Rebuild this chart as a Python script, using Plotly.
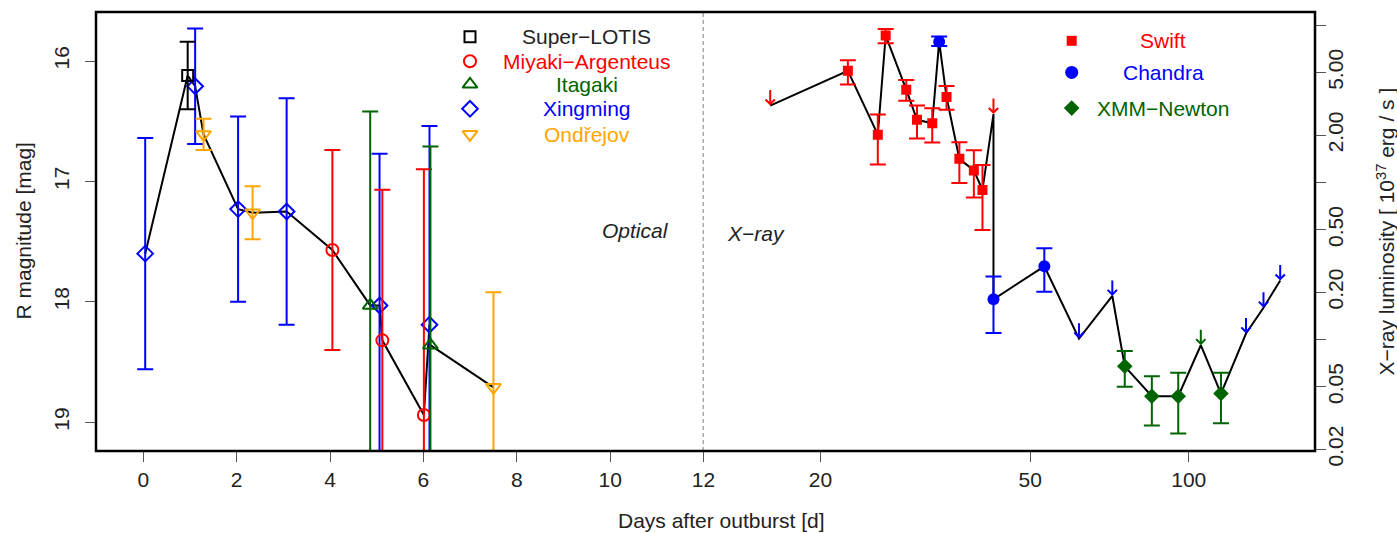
import numpy as np
import plotly.graph_objects as go

# ---------------- Optical data (days, R mag, error) ----------------
lotis_t = [0.95]
lotis_m = [16.12]
lotis_e = [0.28]

miyaki_t = [4.05, 5.12, 6.01]
miyaki_m = [17.57, 18.32, 18.94]
miyaki_e = [0.83, 1.25, 2.04]

itagaki_t = [4.86, 6.15]
itagaki_m = [18.03, 18.36]
itagaki_e = [1.61, 1.65]

xing_t = [0.04, 1.11, 2.03, 3.07, 5.06, 6.13]
xing_m = [17.60, 16.21, 17.23, 17.25, 18.03, 18.19]
xing_e = [0.96, 0.48, 0.77, 0.94, 1.26, 1.65]

ondr_t = [1.29, 2.34, 7.50]
ondr_m = [16.61, 17.26, 18.71]
ondr_e = [0.13, 0.22, 0.79]

# ---------------- X-ray data (days, L [1e37 erg/s], low, high) ----------------
swift_t = [22.55, 25.7, 26.6, 29.1, 30.5, 32.6, 34.7, 36.7, 39.1, 40.6]
swift_L = [5.13, 2.01, 8.60, 3.89, 2.50, 2.38, 3.49, 1.41, 1.19, 0.895]
swift_lo = [4.20, 1.30, 7.68, 3.30, 1.90, 1.79, 2.90, 0.99, 0.80, 0.497]
swift_hi = [5.98, 2.70, 9.46, 4.48, 3.08, 2.96, 4.10, 1.80, 1.60, 1.29]
swift_ul_t = [16.06, 42.6]
swift_ul_L = [3.08, 2.72]

chandra_t = [33.6, 42.6, 53.2]
chandra_L = [7.86, 0.180, 0.292]
chandra_lo = [7.37, 0.110, 0.201]
chandra_hi = [8.47, 0.251, 0.380]
chandra_ul_t = [61.9, 71.6, 128.4, 138.6, 149.1]
chandra_ul_L = [0.101, 0.189, 0.109, 0.159, 0.237]

xmm_t = [75.6, 85.1, 95.5, 115.1]
xmm_L = [0.0674, 0.0435, 0.0435, 0.0452]
xmm_lo = [0.0500, 0.0283, 0.0252, 0.0292]
xmm_hi = [0.0843, 0.0583, 0.0614, 0.0614]
xmm_ul_t = [105.4]
xmm_ul_L = [0.0918]

opt_ticks = [0, 2, 4, 6, 8, 10, 12]
xr_ticks = [20, 50, 100]
mag_ticks = [16, 17, 18, 19]
lum_ticks = [10, 5, 2, 1, 0.5, 0.2, 0.1, 0.05, 0.02]
lum_ticktext = ["", "5.00", "2.00", "", "0.50", "0.20", "", "0.05", "0.02"]

RED = "#FF0000"
BLUE = "#0000FF"
GREEN = "#006400"
ORANGE = "#FFA500"
BLACK = "#000000"
TXT = "#222222"
FONT = "Liberation Sans, Arial, Helvetica, sans-serif"
FS = 21

fig = go.Figure()

# ---- black connecting lines ----
opt_all = sorted(zip(lotis_t + miyaki_t + itagaki_t + xing_t + ondr_t,
                     lotis_m + miyaki_m + itagaki_m + xing_m + ondr_m))
fig.add_trace(go.Scatter(x=[p[0] for p in opt_all], y=[p[1] for p in opt_all],
                         mode="lines", line=dict(color=BLACK, width=2),
                         xaxis="x", yaxis="y", showlegend=False, hoverinfo="skip"))

xr_all = sorted(zip(swift_t + swift_ul_t + chandra_t + chandra_ul_t + xmm_t + xmm_ul_t,
                    swift_L + swift_ul_L + chandra_L + chandra_ul_L + xmm_L + xmm_ul_L),
                key=lambda p: (p[0], -p[1]))
fig.add_trace(go.Scatter(x=[p[0] for p in xr_all], y=[p[1] for p in xr_all],
                         mode="lines", line=dict(color=BLACK, width=2),
                         xaxis="x2", yaxis="y2", showlegend=False, hoverinfo="skip"))

# ---- optical points ----
def opt_trace(t, m, e, color, symbol, size, name):
    return go.Scatter(x=t, y=m, mode="markers", name=name,
                      marker=dict(symbol=symbol, size=size, color=color,
                                  line=dict(color=color, width=2)),
                      error_y=dict(type="data", array=e, symmetric=True,
                                   color=color, thickness=2, width=8),
                      xaxis="x", yaxis="y", showlegend=False)

fig.add_trace(opt_trace(xing_t, xing_m, xing_e, BLUE, "diamond-open", 12, "Xingming"))
fig.add_trace(opt_trace(miyaki_t, miyaki_m, miyaki_e, RED, "circle-open", 12, "Miyaki-Argenteus"))
fig.add_trace(opt_trace(itagaki_t, itagaki_m, itagaki_e, GREEN, "triangle-up-open", 13, "Itagaki"))
fig.add_trace(opt_trace(ondr_t, ondr_m, ondr_e, ORANGE, "triangle-down-open", 13, "Ondřejov"))
fig.add_trace(opt_trace(lotis_t, lotis_m, lotis_e, BLACK, "square-open", 11, "Super-LOTIS"))

# ---- X-ray points ----
def xr_trace(t, L, lo, hi, color, symbol, size, name):
    up = [h - v for h, v in zip(hi, L)]
    dn = [v - l for v, l in zip(L, lo)]
    return go.Scatter(x=t, y=L, mode="markers", name=name,
                      marker=dict(symbol=symbol, size=size, color=color),
                      error_y=dict(type="data", array=up, arrayminus=dn,
                                   symmetric=False, color=color, thickness=2, width=8),
                      xaxis="x2", yaxis="y2", showlegend=False)

fig.add_trace(xr_trace(swift_t, swift_L, swift_lo, swift_hi, RED, "square", 10, "Swift"))
fig.add_trace(xr_trace(chandra_t, chandra_L, chandra_lo, chandra_hi, BLUE, "circle", 12, "Chandra"))
fig.add_trace(xr_trace(xmm_t, xmm_L, xmm_lo, xmm_hi, GREEN, "diamond", 12, "XMM-Newton"))

annotations = []
# ---- upper limit arrows ----
for ts, Ls, col in [(swift_ul_t, swift_ul_L, RED),
                    (chandra_ul_t, chandra_ul_L, BLUE),
                    (xmm_ul_t, xmm_ul_L, GREEN)]:
    for t, L in zip(ts, Ls):
        annotations.append(dict(x=np.log10(t), y=np.log10(L), xref="x2", yref="y2",
                                ax=0, ay=-17, showarrow=True, arrowhead=4,
                                arrowsize=0.9, arrowwidth=2, arrowcolor=col, text=""))

# ---- manual legends (marker on overlay axis + centered coloured text) ----
def px2fx(px):
    return (px - 96) / 1219.0

def py2fy(py):
    return (451 - py) / 439.0

left_leg = [("Super−LOTIS", BLACK, "square-open", 11),
            ("Miyaki−Argenteus", RED, "circle-open", 12),
            ("Itagaki", GREEN, "triangle-up-open", 13),
            ("Xingming", BLUE, "diamond-open", 12),
            ("Ondřejov", ORANGE, "triangle-down-open", 13)]
left_rows = [36.7, 61.2, 84.3, 108.8, 134.3]
for (name, col, sym, sz), row in zip(left_leg, left_rows):
    fig.add_trace(go.Scatter(x=[px2fx(470)], y=[py2fy(row)], mode="markers",
                             marker=dict(symbol=sym, size=sz, color=col,
                                         line=dict(color=col, width=2)),
                             xaxis="x3", yaxis="y3", showlegend=False, hoverinfo="skip"))
    annotations.append(dict(x=px2fx(586.7), y=py2fy(row), xref="paper", yref="paper",
                            text=name, showarrow=False, xanchor="center", yanchor="middle",
                            font=dict(family=FONT, size=FS, color=col if col != BLACK else TXT)))

right_leg = [("Swift", RED, "square", 10), ("Chandra", BLUE, "circle", 13),
             ("XMM−Newton", GREEN, "diamond", 12)]
right_rows = [40.8, 72.4, 108.1]
for (name, col, sym, sz), row in zip(right_leg, right_rows):
    fig.add_trace(go.Scatter(x=[px2fx(1071.7)], y=[py2fy(row)], mode="markers",
                             marker=dict(symbol=sym, size=sz, color=col),
                             xaxis="x3", yaxis="y3", showlegend=False, hoverinfo="skip"))
    annotations.append(dict(x=px2fx(1163.3), y=py2fy(row), xref="paper", yref="paper",
                            text=name, showarrow=False, xanchor="center", yanchor="middle",
                            font=dict(family=FONT, size=FS, color=col)))

# ---- region labels and axis titles ----
annotations += [
    dict(x=px2fx(635), y=py2fy(231), xref="paper", yref="paper", text="<i>Optical</i>",
         showarrow=False, font=dict(family=FONT, size=FS, color=TXT)),
    dict(x=px2fx(755.5), y=py2fy(233), xref="paper", yref="paper", text="<i>X−ray</i>",
         showarrow=False, font=dict(family=FONT, size=FS, color=TXT)),
    dict(x=px2fx(23), y=0.5, xref="paper", yref="paper", text="R magnitude [mag]",
         textangle=-90, showarrow=False, xanchor="center", yanchor="middle",
         font=dict(family=FONT, size=FS, color=TXT)),
    dict(x=px2fx(1385), y=0.5, xref="paper", yref="paper",
         text="X−ray luminosity [ 10<sup>37</sup> erg / s ]",
         textangle=-90, showarrow=False, xanchor="center", yanchor="middle",
         font=dict(family=FONT, size=FS, color=TXT)),
    dict(x=px2fx(721.5), y=py2fy(520), xref="paper", yref="paper",
         text="Days after outburst [d]", showarrow=False, xanchor="center", yanchor="middle",
         font=dict(family=FONT, size=FS, color=TXT)),
]

split = px2fx(703.5)
tickfont = dict(family=FONT, size=FS, color=TXT)
common = dict(showgrid=False, zeroline=False, showline=False, ticks="outside",
              ticklen=10, tickwidth=1, tickcolor="#555555", tickfont=tickfont)

fig.update_layout(
    width=1397, height=533,
    margin=dict(l=96, r=82, t=12, b=82),
    paper_bgcolor="white", plot_bgcolor="rgba(0,0,0,0)",
    showlegend=False,
    xaxis=dict(domain=[0, split], range=[-1.014, 12], tickvals=opt_ticks,
               anchor="y", **common),
    xaxis2=dict(domain=[split, 1], type="log", range=[np.log10(12), 2.2395],
                tickvals=xr_ticks, ticktext=[str(v) for v in xr_ticks],
                anchor="y2", **common),
    yaxis=dict(domain=[0, 1], range=[19.239, 15.593], tickvals=mag_ticks,
               tickangle=-90, anchor="x", side="left", ticklabelstandoff=8, **common),
    yaxis2=dict(domain=[0, 1], type="log", range=[-1.7105, 1.0842],
                tickvals=lum_ticks, ticktext=lum_ticktext, tickangle=-90,
                anchor="x2", side="right", ticklabelstandoff=-8, **common),
    xaxis3=dict(domain=[0, 1], range=[0, 1], visible=False, anchor="y3", fixedrange=True),
    yaxis3=dict(domain=[0, 1], range=[0, 1], visible=False, anchor="x3", fixedrange=True),
    annotations=annotations,
    shapes=[
        dict(type="line", xref="x", yref="paper", x0=12, x1=12, y0=0, y1=1,
             line=dict(color="#555555", width=1.5, dash="4px,3px"), layer="below"),
        dict(type="rect", xref="paper", yref="paper", x0=0, x1=1, y0=0, y1=1,
             line=dict(color=BLACK, width=2.5), layer="above"),
    ],
)

fig.write_html("out.html", config={"displayModeBar": False},
               post_script="document.body.style.margin='0';document.body.style.overflow='hidden';")
